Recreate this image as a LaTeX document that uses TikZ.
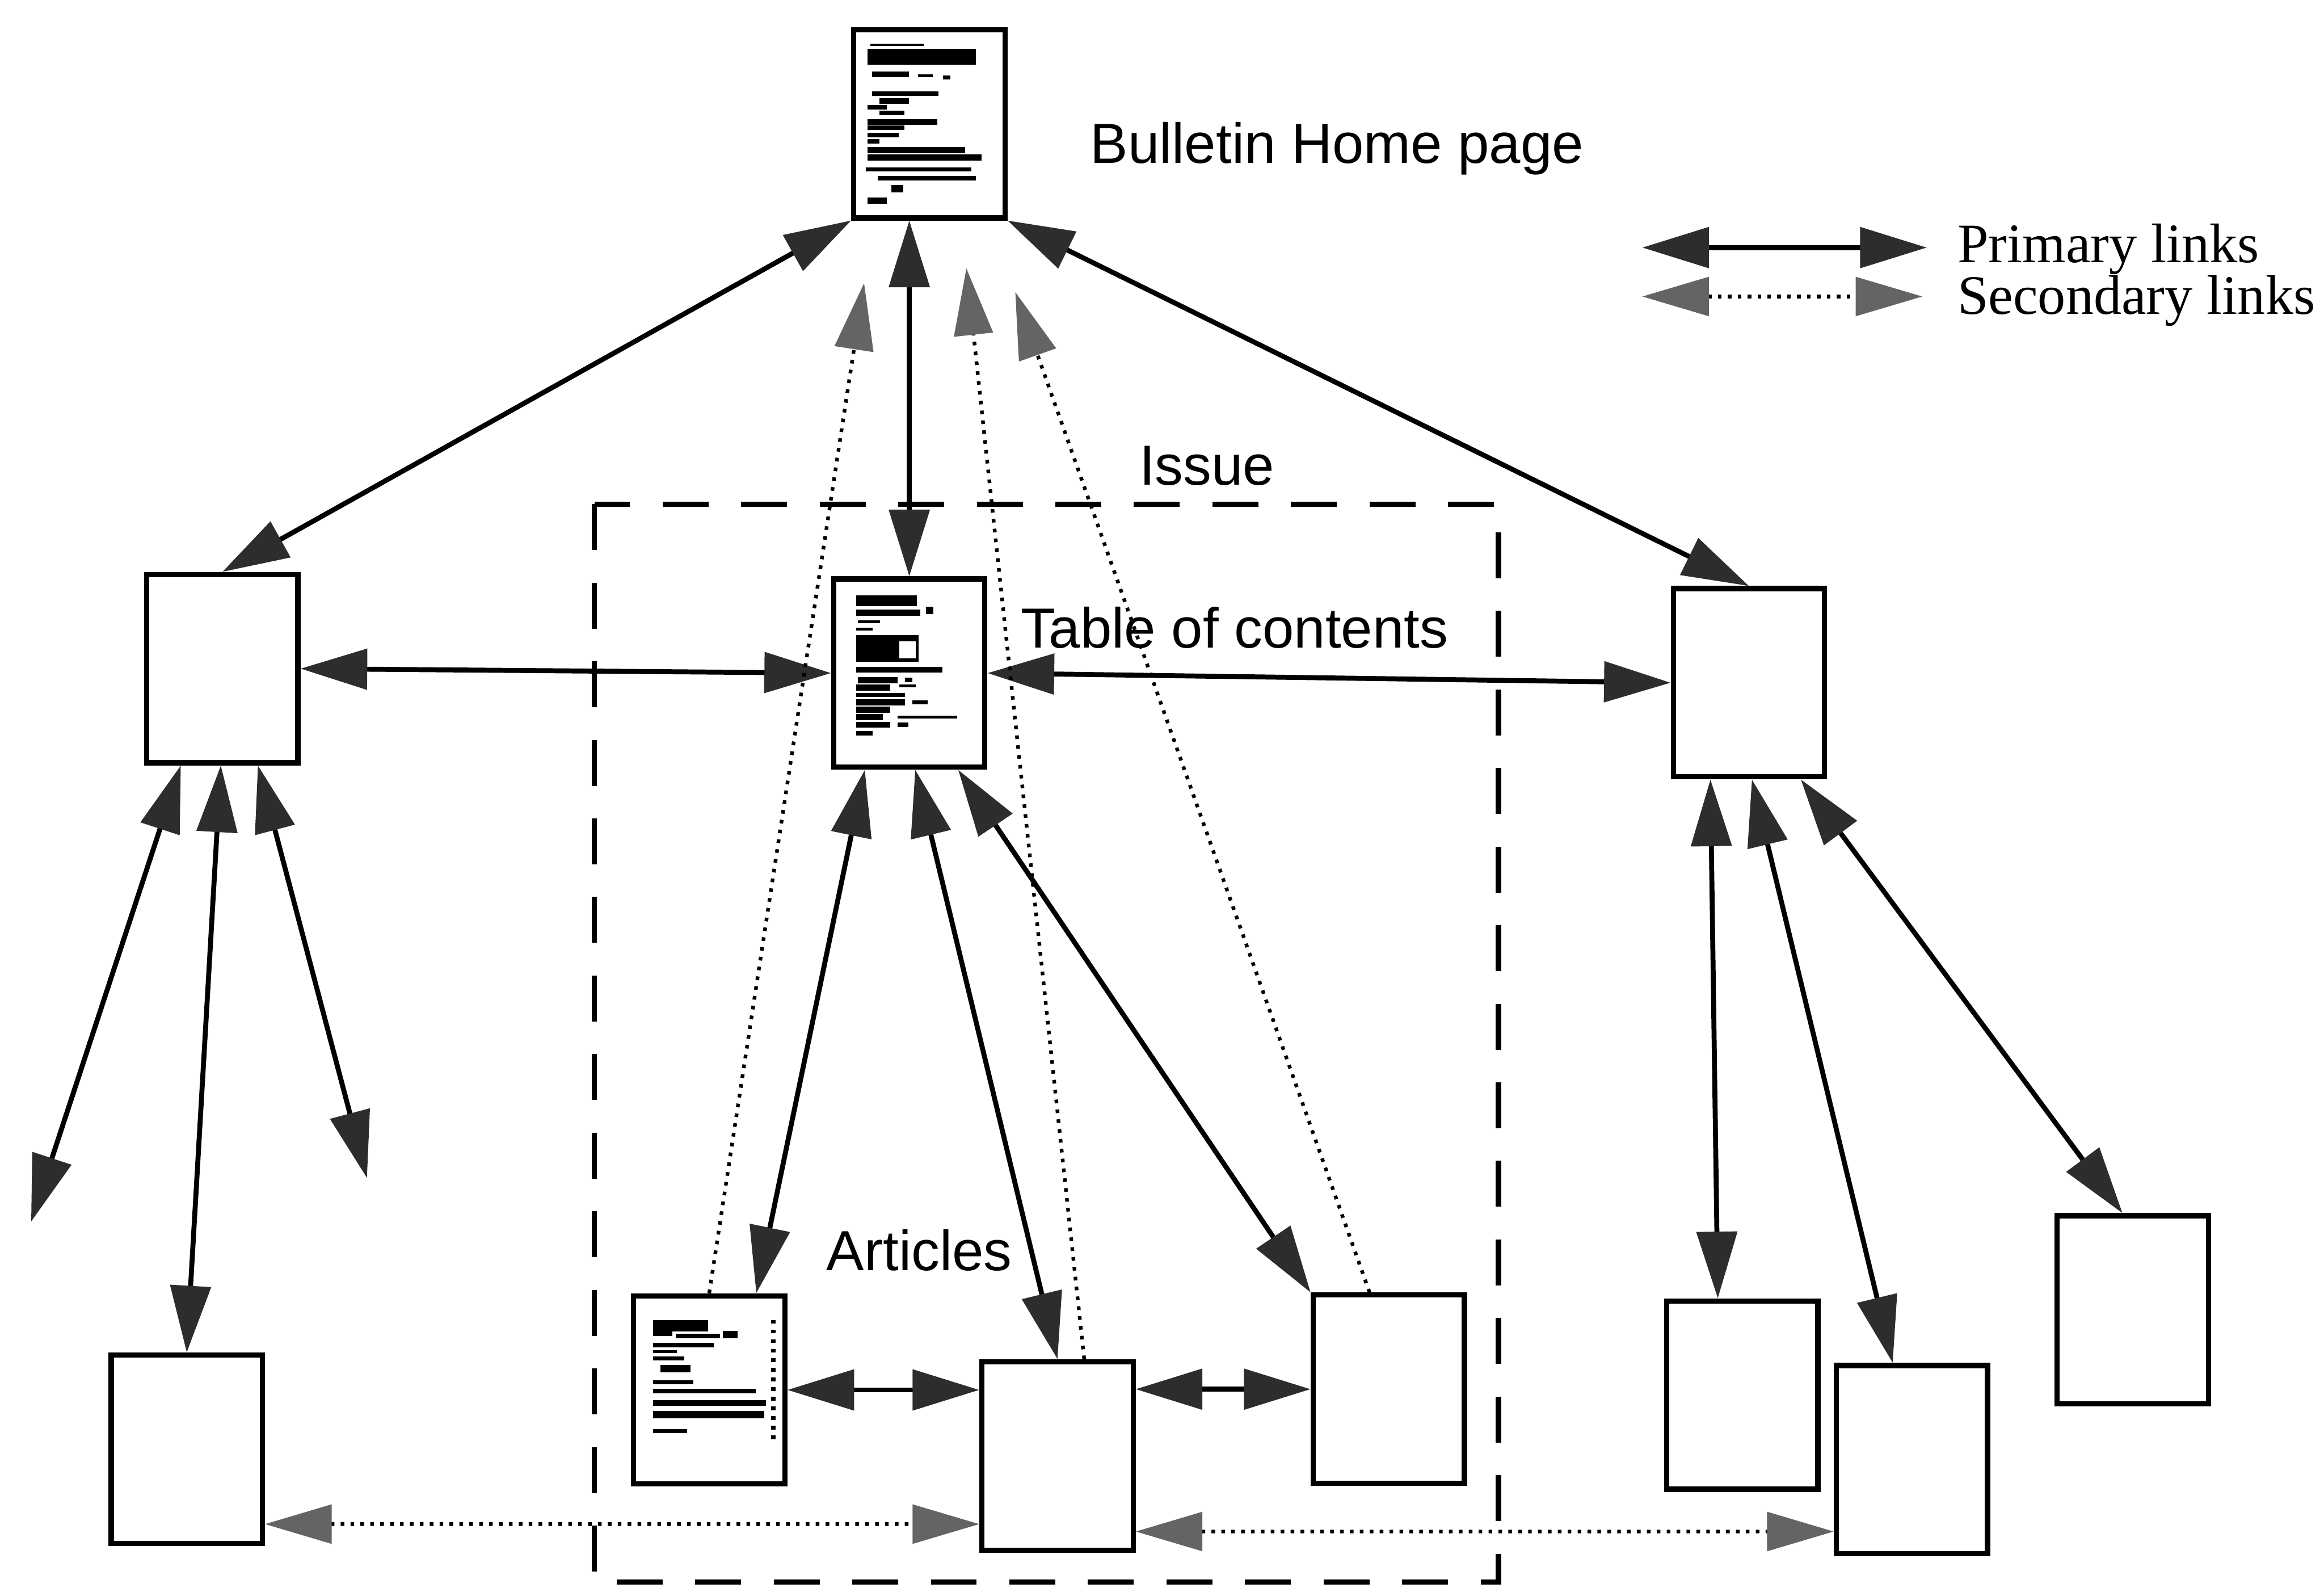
\documentclass[tikz,border=0pt]{standalone}
\usepackage{fontspec}
\setmainfont{Liberation Serif}
\newfontfamily\labelfont{Liberation Sans}
\usepackage{tikz}
\usetikzlibrary{arrows.meta,positioning,calc}
\definecolor{HeadGray}{RGB}{45,45,45}
\definecolor{SecGray}{RGB}{100,100,100}

\begin{document}
\begin{tikzpicture}[
    page/.style={draw, line width=1pt, minimum width=1.02cm, minimum height=1.27cm, inner sep=0pt},
    primhead/.tip={Triangle[length=4.5mm,width=2.7mm,color=HeadGray]},
    sechead/.tip={Triangle[length=4.5mm,width=2.6mm,color=SecGray]},
    prim/.style={line width=0.95pt, primhead-primhead},
    secl/.style={line width=0.7pt, dash pattern=on 0.7pt off 1.2pt, -sechead},
    secboth/.style={line width=0.7pt, dash pattern=on 0.7pt off 1.2pt, sechead-sechead},
    lbl/.style={font=\labelfont\fontsize{10.85pt}{13pt}\selectfont, inner sep=0pt, anchor=base west},
    leg/.style={font=\fontsize{10.7pt}{13pt}\selectfont, inner sep=0pt, anchor=base west},
    issuebox/.style={line width=1pt, dash pattern=on 3.1mm off 2.2mm}
  ]
  \useasboundingbox (0,0) rectangle (15.68,-10.71);

  \draw[issuebox] (4.01,-3.40) rectangle (10.11,-10.67);

  \node[page] (home) at (6.27,-0.835) {};
  \node[page] (L)    at (1.50,-4.51) {};
  \node[page] (toc)  at (6.135,-4.54) {};
  \node[page] (R)    at (11.80,-4.605) {};
  \node[page] (LL)   at (1.26,-9.775) {};
  \node[page] (A1)   at (4.785,-9.375) {};
  \node[page] (A2)   at (7.135,-9.82) {};
  \node[page] (A3)   at (9.37,-9.37) {};
  \node[page] (R1)   at (11.755,-9.41) {};
  \node[page] (R2)   at (12.90,-9.845) {};
  \node[page] (R3)   at (14.39,-8.835) {};

  \begin{scope}[shift={(home.north west)}, x=0.1mm, y=-0.1mm]
    \foreach \a/\b/\y/\w in {13/49/12/1.5, 11/84/20/11, 14/39/32/4, 45/55/33/2, 62/67/34/3,
        14/59/45/3, 19/39/50/4, 11/24/54/3, 19/36/58/3, 11/58/64/4, 11/36/68/3, 11/32/73/3,
        11/19/77/3, 11/77/83/4, 11/88/88/4, 10/81/96/3, 18/84/102/3, 27/35/109/5, 11/24/117/4}
      \draw[line width=\w*0.1mm] (\a,\y) -- (\b,\y);
  \end{scope}
  \begin{scope}[shift={(toc.north west)}, x=0.1mm, y=-0.1mm]
    \foreach \a/\b/\y/\w in {17/58/16.5/7, 17/60/24.5/4, 64/69/23/5, 18/33/30.5/2, 17/28/35.5/2,
        17/75/63/4, 18/45/70/4, 50/55/70/3, 17/40/75/4, 46/57/74/2, 17/50/80/3, 17/50/85/4,
        55/65/85/3, 17/40/90/4, 17/35/95/4, 45/85/95/2, 17/40/100/4, 45/52/100/3, 17/28/106/3}
      \draw[line width=\w*0.1mm] (\a,\y) -- (\b,\y);
    \fill (17,39.5) rectangle (59,57.5);
    \fill[white] (46,44) rectangle (57,55.5);
  \end{scope}
  \begin{scope}[shift={(A1.north west)}, x=0.1mm, y=-0.1mm]
    \foreach \a/\b/\y/\w in {15/52/22/8, 15/28/27/4, 30/60/29/3, 62/72/28/5, 15/56/35/3,
        15/31/39.5/2, 15/36/44/2.5, 20/40/51/5, 15/42/60/2.5, 15/84/66/3, 15/91/74/4,
        15/90/82/5, 15/38/93/3}
      \draw[line width=\w*0.1mm] (\a,\y) -- (\b,\y);
    \draw[line width=0.3mm, dash pattern=on 0.25mm off 0.4mm] (96,18) -- (96,99);
  \end{scope}

  \node[lbl] (homelbl)  at (7.35,-1.10) {Bulletin Home page};
  \node[lbl] (issuelbl) at (7.68,-3.27) {Issue};
  \node[lbl] (toclbl)   at (6.88,-4.37) {Table of contents};
  \node[lbl] (artlbl)   at (5.57,-8.57) {Articles};

  \coordinate (fl) at (0.21,-8.24);
  \coordinate (fr) at (2.476,-7.946);
  \coordinate (s1) at (5.83,-1.91);
  \coordinate (s2) at (6.52,-1.81);
  \coordinate (s3) at (6.85,-1.97);

  \draw[prim] (home.south west) -- (L.north);
  \draw[prim] (toc.north) -- (toc.north |- home.south);
  \draw[prim] (home.south east) -- (R.north);
  \draw[prim] (L.east) -- (toc.west);
  \draw[prim] (toc.east) -- (R.west);
  \draw[prim] ([xshift=-2.8mm]L.south) -- (fl);
  \draw[prim] ([xshift=-0.1mm]L.south) -- (LL.north);
  \draw[prim] ([xshift=2.4mm]L.south) -- (fr);
  \draw[prim] ([xshift=-3mm]toc.south) -- ([xshift=-2.1mm]A1.north east);
  \draw[prim] ([xshift=0.4mm]toc.south) -- (A2.north);
  \draw[prim] ([xshift=3.3mm]toc.south) -- (A3.north west);
  \draw[prim] (A1.east) -- (A1.east -| A2.west);
  \draw[prim] (A3.west) -- (A3.west -| A2.east);
  \draw[prim] ([xshift=-2.6mm]R.south) -- ([xshift=-1.65mm]R1.north);
  \draw[prim] ([xshift=0.2mm]R.south) -- ([xshift=-1.3mm]R2.north);
  \draw[prim] ([xshift=3.5mm]R.south) -- ([xshift=-0.7mm]R3.north);

  \draw[secl] (A1.north) -- (s1);
  \draw[secl] ([xshift=1.8mm]A2.north) -- (s2);
  \draw[secl] ([xshift=-1.3mm]A3.north) -- (s3);
  \draw[secboth] ([yshift=-5.05mm]LL.east) -- ([yshift=-4.6mm]A2.west);
  \draw[secboth] ([yshift=-5.1mm]A2.east) -- ([yshift=-4.85mm]R2.west);

  \coordinate (legp1) at (11.08,-1.67);
  \coordinate (legp2) at (13.00,-1.67);
  \coordinate (legs1) at (11.08,-2.00);
  \coordinate (legs2) at (12.97,-2.00);
  \draw[prim] (legp1) -- (legp2);
  \draw[secboth] (legs1) -- (legs2);
  \node[leg] (primlbl) at (13.20,-1.77) {Primary links};
  \node[leg] (seclbl)  at (13.20,-2.12) {Secondary links};
\end{tikzpicture}
\end{document}
